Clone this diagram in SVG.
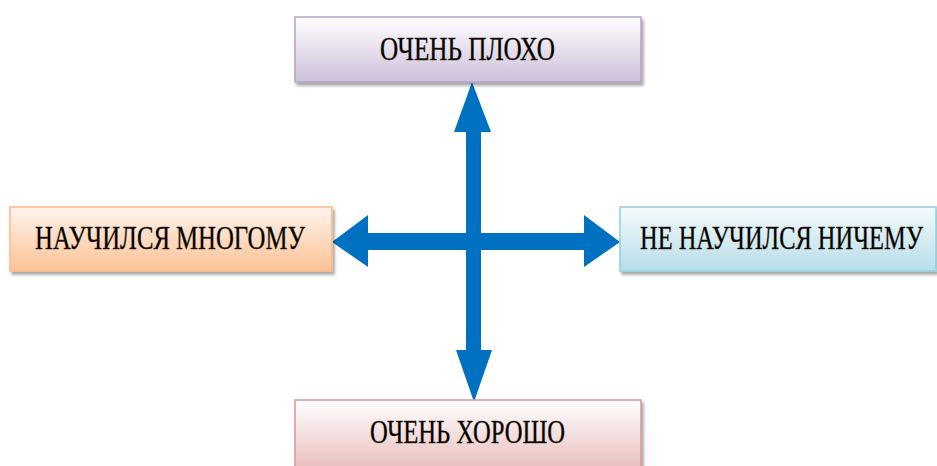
<svg xmlns="http://www.w3.org/2000/svg" width="937" height="466" viewBox="0 0 937 466">
  <defs>
    <linearGradient id="gPurple" x1="0" y1="0" x2="0" y2="1">
      <stop offset="0" stop-color="#ffffff"/>
      <stop offset="1" stop-color="#ccc0da"/>
    </linearGradient>
    <linearGradient id="gOrange" x1="0" y1="0" x2="0" y2="1">
      <stop offset="0" stop-color="#fff4ec"/>
      <stop offset="1" stop-color="#fbc296"/>
    </linearGradient>
    <linearGradient id="gBlue" x1="0" y1="0" x2="0" y2="1">
      <stop offset="0" stop-color="#f4fafc"/>
      <stop offset="1" stop-color="#b7dde8"/>
    </linearGradient>
    <linearGradient id="gRed" x1="0" y1="0" x2="0" y2="1">
      <stop offset="0" stop-color="#ffffff"/>
      <stop offset="1" stop-color="#e6b9b8"/>
    </linearGradient>
    <filter id="shadow" x="-5%" y="-10%" width="112%" height="130%">
      <feDropShadow dx="2" dy="3" stdDeviation="1.5" flood-color="#000" flood-opacity="0.35"/>
    </filter>
  </defs>
  <style>
    .box { stroke-width: 1.5; filter: url(#shadow); }
    .lbl { font-family: "Liberation Serif", "Times New Roman", serif; font-size: 34px; fill: #000; stroke: #3a2a10; stroke-width: 0.4; text-anchor: start; }
    .arrow { fill: #0070c0; }
  </style>
  <rect width="937" height="466" fill="#ffffff"/>

  <g id="connectors">
    <rect class="arrow" x="466" y="130" width="15" height="222"/>
    <polygon class="arrow" points="454,132 472,82 491,132"/>
    <polygon class="arrow" points="456,350 492,350 474,402"/>
    <rect class="arrow" x="366" y="233" width="220" height="17"/>
    <polygon class="arrow" points="368,215 368,267 332,242"/>
    <polygon class="arrow" points="584,215 584,267 620,242"/>
  </g>

  <g id="node-top">
    <rect class="box" x="295" y="17" width="346" height="65" fill="url(#gPurple)" stroke="#b3a2c7"/>
    <text class="lbl" transform="translate(380,60) scale(0.72,1)" textLength="243" lengthAdjust="spacingAndGlyphs">ОЧЕНЬ ПЛОХО</text>
  </g>

  <g id="node-left">
    <rect class="box" x="10" y="207" width="322" height="64" fill="url(#gOrange)" stroke="#f9b98a"/>
    <text class="lbl" transform="translate(35,249) scale(0.72,1)" textLength="375" lengthAdjust="spacingAndGlyphs">НАУЧИЛСЯ МНОГОМУ</text>
  </g>

  <g id="node-right">
    <rect class="box" x="620" y="207" width="316" height="64" fill="url(#gBlue)" stroke="#93cddd"/>
    <text class="lbl" transform="translate(640,249) scale(0.72,1)" textLength="393" lengthAdjust="spacingAndGlyphs">НЕ НАУЧИЛСЯ НИЧЕМУ</text>
  </g>

  <g id="node-bottom">
    <rect class="box" x="295" y="400" width="346" height="75" fill="url(#gRed)" stroke="#d99694"/>
    <text class="lbl" transform="translate(370,443) scale(0.72,1)" textLength="271" lengthAdjust="spacingAndGlyphs">ОЧЕНЬ ХОРОШО</text>
  </g>
</svg>
